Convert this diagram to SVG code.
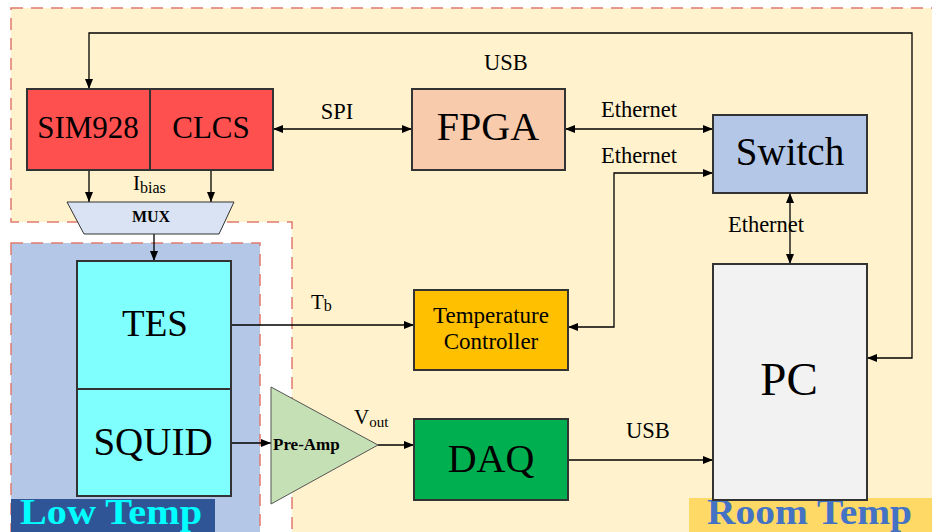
<svg xmlns="http://www.w3.org/2000/svg" width="932" height="532" viewBox="0 0 932 532" font-family="'Liberation Serif', 'Times New Roman', serif">
<style>
text{font-family:"Liberation Serif","Times New Roman",serif;fill:#000}
.box{stroke:#333;stroke-width:2}
.c{fill:none;stroke:#000;stroke-width:1.3}
.zone{stroke:#E07B6E;stroke-width:1.5;stroke-dasharray:12 8}
.lbl{font-size:22.5px}
</style>
<defs>
<marker id="ah" viewBox="0 0 10 8" refX="10" refY="4" markerWidth="10" markerHeight="8" markerUnits="userSpaceOnUse" orient="auto-start-reverse">
<path d="M0,0 L10,4 L0,8 Z" fill="#000"/>
</marker>
</defs>
<rect width="932" height="532" fill="#fff"/>
<g id="room-zone">
<path class="zone" d="M11,8 H940 V540 H292 V222 H11 Z" fill="#FFF2CC"/>
<rect x="689" y="498" width="250" height="40" fill="#FFD966"/>
<text x="707" y="524" font-size="35" font-weight="bold" textLength="205" lengthAdjust="spacingAndGlyphs" style="fill:#4472C4">Room Temp</text>
</g>
<g id="low-zone">
<path class="zone" d="M11,243 H260 V540 H11 Z" fill="#B4C7E7"/>
<rect x="11" y="499" width="204" height="40" fill="#2F5597"/>
<text x="20" y="524" font-size="35" font-weight="bold" textLength="182" lengthAdjust="spacingAndGlyphs" style="fill:#00FFFF">Low Temp</text>
</g>
<g id="connectors">
<path class="c" d="M867,358 H912 V33 H89 V89" marker-end="url(#ah)"/>
<path d="M867,358 L877,354 L877,362 Z" fill="#000"/>
<path class="c" d="M273,129 H412" marker-start="url(#ah)" marker-end="url(#ah)"/>
<path class="c" d="M565,129 H713" marker-start="url(#ah)" marker-end="url(#ah)"/>
<path class="c" d="M568,327 H614 V173 H713" marker-start="url(#ah)" marker-end="url(#ah)"/>
<path class="c" d="M790,193 V264" marker-start="url(#ah)" marker-end="url(#ah)"/>
<path class="c" d="M89,170 V202" marker-end="url(#ah)"/>
<path class="c" d="M211,170 V202" marker-end="url(#ah)"/>
<path class="c" d="M154,234 V261" marker-end="url(#ah)"/>
<path class="c" d="M231,325 H414" marker-end="url(#ah)"/>
<path class="c" d="M231,443 H271" marker-end="url(#ah)"/>
<path class="c" d="M378,445 H414" marker-end="url(#ah)"/>
<path class="c" d="M568,460 H713" marker-end="url(#ah)"/>
<text class="lbl" x="506" y="70" text-anchor="middle">USB</text>
<text class="lbl" x="337" y="119" text-anchor="middle">SPI</text>
<text class="lbl" x="639" y="117" text-anchor="middle">Ethernet</text>
<text class="lbl" x="639" y="163" text-anchor="middle">Ethernet</text>
<text class="lbl" x="766" y="232" text-anchor="middle">Ethernet</text>
<text class="lbl" x="648" y="438" text-anchor="middle">USB</text>
<text x="133" y="190" font-size="21">I<tspan font-size="16" dy="3">bias</tspan></text>
<text x="311" y="309" font-size="21">T<tspan font-size="16" dy="2">b</tspan></text>
<text x="354" y="424" font-size="21">V<tspan font-size="15" dy="3">out</tspan></text>
</g>
<g id="sim928">
<rect class="box" x="27" y="89" width="123" height="81" fill="#FF5050"/>
<text x="88" y="138" font-size="31" text-anchor="middle">SIM928</text>
</g>
<g id="clcs">
<rect class="box" x="150" y="89" width="123" height="81" fill="#FF5050"/>
<text x="211" y="138" font-size="31" text-anchor="middle">CLCS</text>
</g>
<g id="fpga">
<rect class="box" x="412" y="89" width="153" height="81" fill="#F8CBAD"/>
<text x="488" y="140" font-size="40" text-anchor="middle">FPGA</text>
</g>
<g id="switch">
<rect class="box" x="713" y="115" width="154" height="78" fill="#B4C7E7"/>
<text x="790" y="165" font-size="39" text-anchor="middle">Switch</text>
</g>
<g id="pc">
<rect class="box" x="713" y="264" width="154" height="236" fill="#F2F2F2"/>
<text x="789" y="395" font-size="47" text-anchor="middle">PC</text>
</g>
<g id="mux">
<path d="M67,202 H234 L219,234 H84 Z" fill="#DAE3F3" stroke="#333" stroke-width="1"/>
<text x="151" y="222" font-size="16" font-weight="bold" text-anchor="middle">MUX</text>
</g>
<g id="tes">
<rect class="box" x="77" y="261" width="154" height="128" fill="#80FFFF"/>
<text x="155" y="336" font-size="37" text-anchor="middle">TES</text>
</g>
<g id="squid">
<rect class="box" x="77" y="389" width="154" height="107" fill="#80FFFF"/>
<text x="153" y="455" font-size="39" text-anchor="middle">SQUID</text>
</g>
<g id="temp-controller">
<rect class="box" x="414" y="290" width="154" height="80" fill="#FFC000"/>
<text x="491" y="323" font-size="23" text-anchor="middle">Temperature</text>
<text x="491" y="349" font-size="23" text-anchor="middle">Controller</text>
</g>
<g id="preamp">
<path d="M271,387 L378,445 L271,504 Z" fill="#C5E0B4" stroke="#555" stroke-width="1"/>
<text x="273" y="450" font-size="17" font-weight="bold">Pre-Amp</text>
</g>
<g id="daq">
<rect class="box" x="414" y="419" width="154" height="81" fill="#00B050"/>
<text x="491" y="472" font-size="40" text-anchor="middle">DAQ</text>
</g>
</svg>
